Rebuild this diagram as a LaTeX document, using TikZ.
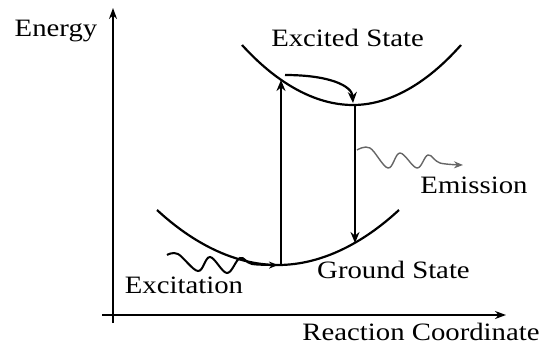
\documentclass[tikz,border=0pt]{standalone}
\usepackage{fontspec}
\setmainfont{Liberation Serif}[FakeStretch=1.15]
\usetikzlibrary{arrows.meta, positioning}

\begin{document}
\begin{tikzpicture}[
  x=1pt, y=-1pt,
  axis/.style={line width=2.8pt, -{Stealth[length=11pt,width=8pt]}},
  curve/.style={line width=2.2pt},
  trans/.style={line width=2.2pt, -{Stealth[length=11pt,width=9pt]}},
  photon/.style={line width=2pt, -{Stealth[length=9pt,width=7pt]}},
  txt/.style={font=\fontsize{25}{29}\selectfont, anchor=base, inner sep=0pt}
]
\useasboundingbox (0,0) rectangle (552,354);

% axes
\coordinate (ybot) at (113,323);
\coordinate (ytop) at (113,8);
\coordinate (xleft) at (102,315);
\coordinate (xright) at (506,315);
\draw[axis] (ybot) -- (ytop);
\draw[axis] (xleft) -- (xright);

% potential curves
\coordinate (es-l) at (242,45);
\coordinate (es-min) at (353,105);
\coordinate (es-r) at (461,45);
\coordinate (gs-l) at (157,210);
\coordinate (gs-min) at (278,265);
\coordinate (gs-r) at (399,210);
\draw[curve] (es-l) parabola bend (es-min) (es-r);
\draw[curve] (gs-l) parabola bend (gs-min) (gs-r);

% transitions
\coordinate (abs-a) at (281,265);
\coordinate (abs-b) at (281,80);
\coordinate (em-a) at (355,105);
\coordinate (em-b) at (355,243);
\coordinate (rel-a) at (285,75);
\coordinate (rel-b) at (353,103);
\draw[trans] (abs-a) -- (abs-b);
\draw[trans] (em-a) -- (em-b);
\draw[trans] (rel-a) .. controls (330,75) and (352,86) .. (rel-b);

% photons
\draw[photon] plot[smooth, tension=0.6] coordinates {(167,255) (178,254) (198,271) (210,257) (227,273) (240,258) (252,264) (gs-min)};
\draw[photon, gray!80!black, line width=1.4pt] plot[smooth, tension=0.6] coordinates {(357,150) (370,148) (388,168) (400,153) (417,168) (428,155) (440,163) (463,165)};

% labels
\node[txt] (energy) at (56,36.7) {Energy};
\node[txt] (excited) at (347.5,46.7) {Excited State};
\node[txt] (emission) at (474,193.3) {Emission};
\node[txt] (ground) at (393.5,278.7) {Ground State};
\node[txt] (excitation) at (184,293.7) {Excitation};
\node[txt] (rc) at (421,340) {Reaction Coordinate};

\end{tikzpicture}
\end{document}
